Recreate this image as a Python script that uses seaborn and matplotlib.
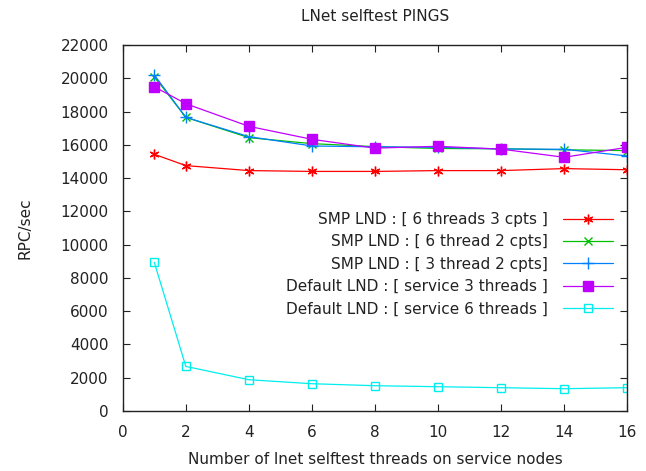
import matplotlib
matplotlib.use("Agg")
import matplotlib.pyplot as plt
import seaborn as sns
import pandas as pd

threads = [1, 2, 4, 6, 8, 10, 12, 14, 16]
smp_6t_3c = [15430, 14750, 14450, 14400, 14400, 14450, 14450, 14570, 14500]
smp_6t_2c = [20100, 17650, 16430, 16070, 15890, 15780, 15760, 15700, 15650]
smp_3t_2c = [20200, 17650, 16490, 15930, 15880, 15850, 15750, 15730, 15330]
def_3t = [19490, 18470, 17110, 16330, 15800, 15910, 15740, 15250, 15850]
def_6t = [8940, 2680, 1880, 1640, 1520, 1460, 1400, 1340, 1400]

labels = [
    "SMP LND : [ 6 threads 3 cpts ]",
    "SMP LND : [ 6 thread 2 cpts]",
    "SMP LND : [ 3 thread 2 cpts]",
    "Default LND : [ service 3 threads ]",
    "Default LND : [ service 6 threads ]",
]
series = [smp_6t_3c, smp_6t_2c, smp_3t_2c, def_3t, def_6t]
colors = ["#ff0000", "#00c000", "#0080ff", "#c000ff", "#00eeee"]
markers = [(6, 2, 0), "x", "+", "s", "s"]
mfcs = ["#ff0000", "#00c000", "#0080ff", "#c000ff", "none"]
msizes = [7, 6, 8, 7, 6]

df = pd.concat([pd.DataFrame({"threads": threads, "rpc": v, "series": l})
                for v, l in zip(series, labels)])

sns.set_style("ticks")
plt.rcParams["font.family"] = ["DejaVu Sans"]
plt.rcParams["text.color"] = "#222222"
plt.rcParams["axes.labelcolor"] = "#222222"
plt.rcParams["xtick.color"] = "#222222"
plt.rcParams["ytick.color"] = "#222222"

fig = plt.figure(figsize=(6.46, 4.71), dpi=100)
ax = fig.add_axes([0.190, 0.1274, 0.781, 0.7771])

for lab, c, m, mfc, ms in zip(labels, colors, markers, mfcs, msizes):
    sub = df[df["series"] == lab]
    sns.lineplot(data=sub, x="threads", y="rpc", ax=ax, color=c, marker=m,
                 markersize=ms, markerfacecolor=mfc, markeredgecolor=c,
                 markeredgewidth=1.0, linewidth=0.9, label=lab)

ax.set_xlim(0, 16)
ax.set_ylim(0, 22000)
ax.set_xticks(range(0, 17, 2))
ax.set_yticks(range(0, 22001, 2000))
ax.tick_params(direction="in", top=True, right=True, length=5, width=0.8,
               labelsize=11, pad=10)
for s in ax.spines.values():
    s.set_visible(True)
    s.set_linewidth(1.0)
    s.set_color("#222222")

ax.set_title("LNet selftest PINGS", fontsize=11, pad=17)
ax.set_xlabel("Number of lnet selftest threads on service nodes", fontsize=11, labelpad=9)
ax.set_ylabel("RPC/sec", fontsize=11, labelpad=20)

leg = ax.legend(loc="upper right", bbox_to_anchor=(0.984, 0.56), frameon=False,
                markerfirst=False, alignment="right", fontsize=11,
                handlelength=3.3, handletextpad=1.0, labelspacing=0.48,
                borderaxespad=0)

fig.savefig("out.png", dpi=100)
